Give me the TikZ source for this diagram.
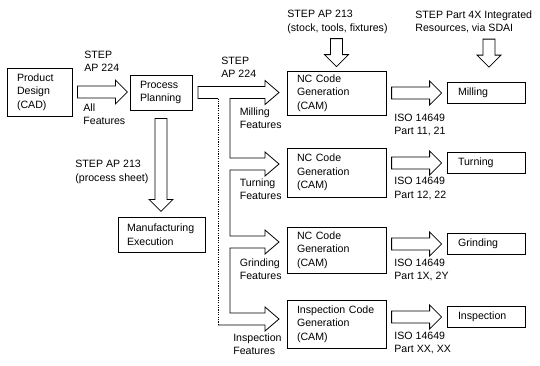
\documentclass[tikz,border=0pt]{standalone}
\usepackage{fontspec}
\setmainfont{Liberation Sans}
\usetikzlibrary{calc}
\begin{document}
\begin{tikzpicture}[
  x=1pt,
  y=-1pt,
  font=\fontsize{10.6}{13.5}\selectfont,
  line width=0.8pt,
  box/.style={draw, align=left, inner ysep=2pt},
  ncbox/.style={box, text width=79pt, inner xsep=10pt},
  endbox/.style={box, text width=56pt, inner xsep=11pt, minimum height=21pt},
  lbl/.style={anchor=west, align=left, inner sep=0pt},
  hollow/.style={draw, line join=miter}
]
\useasboundingbox (0,0) rectangle (540,365);

% left part
\node[box, text width=45pt, inner xsep=10pt, minimum height=48pt] (design) at (39.5,92) {Product\\Design\\(CAD)};
\node[box, text width=42pt, inner xsep=10pt, minimum height=35pt] (planning) at (161,92.5) {Process\\Planning};
\node[box, text width=69pt, inner xsep=9pt, minimum height=35pt] (mfg) at (161.5,234.5) {Manufacturing\\Execution};

% code generation
\node[ncbox, minimum height=44pt] (nc1) at (336.5,93) {NC Code\\Generation\\(CAM)};
\node[ncbox, minimum height=49pt] (nc2) at (336.5,172.5) {NC Code\\Generation\\(CAM)};
\node[ncbox, minimum height=46pt] (nc3) at (336.5,250) {NC Code\\Generation\\(CAM)};
\node[ncbox, minimum height=48pt] (nc4) at (336.5,324) {Inspection Code\\Generation\\(CAM)};

% processes
\node[endbox] (milling) at (486,93) {Milling};
\node[endbox] (turning) at (486,163) {Turning};
\node[endbox] (grinding) at (486,244) {Grinding};
\node[endbox] (inspection) at (486,317) {Inspection};

% labels
\node[lbl] (ap224a) at (84,61.5) {STEP\\AP 224};
\node[lbl] (allfeat) at (83,114) {All\\Features};
\node[lbl] (ap224b) at (221,67.5) {STEP\\AP 224};
\node[lbl] (sheet) at (75,172) {STEP AP 213\\(process sheet)};
\node[lbl] (stock) at (287,22) {STEP AP 213\\(stock, tools, fixtures)};
\node[lbl] (part4x) at (415,22) {STEP Part 4X Integrated\\Resources, via SDAI};
\foreach \y/\name/\txt in {118/millfeat/Milling, 189/turnfeat/Turning, 269/grindfeat/Grinding, 344/inspfeat/Inspection}
  \node[lbl, anchor=east] (\name) at (282,\y) {\txt\\Features};
\foreach \y/\name/\txt in {125/iso1/{11, 21}, 188.5/iso2/{12, 22}, 270/iso3/{1X, 2Y}, 343/iso4/{XX, XX}}
  \node[lbl] (\name) at (394,\y) {ISO 14649\\Part \txt};

% CAD to planning
\draw[hollow] ($(design.east)+(5,-6)$) -- ++(38,0) -- ++(0,-6) -- ++(12,12) -- ++(-12,12) -- ++(0,-6) -- ++(-38,0) -- cycle;

% planning down to execution
\draw[hollow] ($(planning.south)+(-6,8)$) -- ++(0,81) -- ++(-6,0) -- ++(12,12) -- ++(12,-12) -- ++(-6,0) -- ++(0,-81) -- cycle;

% resources from the top
\draw[hollow] ($(nc1.north)+(0,-4)$) -- ++(-12,-12) -- ++(6,0) -- ++(0,-16) -- ++(12,0) -- ++(0,16) -- ++(6,0) -- cycle;
\draw[hollow] ($(milling.north)+(3,-15)$) -- ++(-12,-12) -- ++(6,0) -- ++(0,-16) -- ++(12,0) -- ++(0,16) -- ++(6,0) -- cycle;

% code to machines
\foreach \t in {milling,turning,grinding,inspection}
  \draw[hollow] ($(\t.west)+(-5,0)$) -- ++(-12,-12) -- ++(0,6) -- ++(-38,0) -- ++(0,12) -- ++(38,0) -- ++(0,6) -- cycle;

% branching arrow to the code generators
\draw[hollow] (218,98.5) -- (198,98.5) -- (198,86.5) -- (265,86.5) -- (265,80.5) -- (279,92.5) -- (265,104.5) -- (265,98.5)
  -- (230,98.5) -- (230,158) -- (265,158) -- (265,152) -- (279,164) -- (265,176) -- (265,170)
  -- (230,170) -- (230,236) -- (265,236) -- (265,230) -- (279,242) -- (265,254) -- (265,248)
  -- (230,248) -- (230,313) -- (265,313) -- (265,307) -- (279,319) -- (265,331) -- (265,325) -- (218,325);
\draw[dash pattern=on 1.2pt off 1.2pt] (218,325) -- (218,98.5);
\end{tikzpicture}
\end{document}
